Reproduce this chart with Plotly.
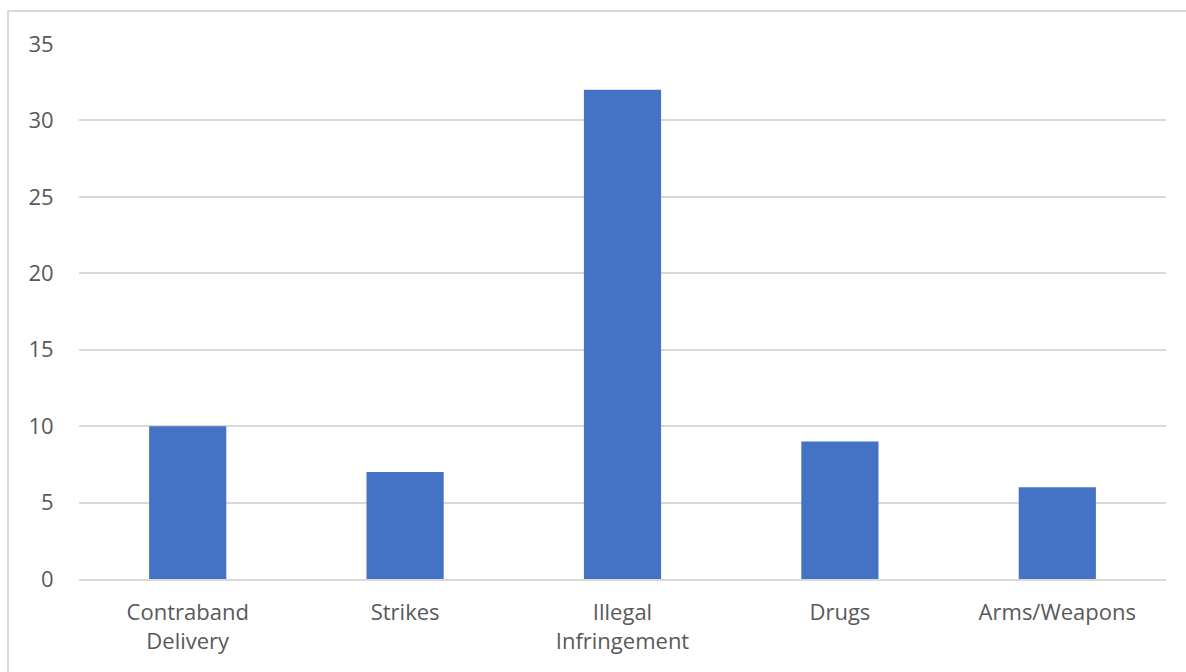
import plotly.graph_objects as go

categories = ["Contraband<br>Delivery", "Strikes", "Illegal<br>Infringement", "Drugs", "Arms/Weapons"]
counts = [10, 7, 32, 9, 6]
y_ticks = [0, 5, 10, 15, 20, 25, 30, 35]

fig = go.Figure(
    go.Bar(x=categories, y=counts, marker=dict(color="#4472C4", line=dict(width=0)))
)

grid = "#D9D9D9"
text_color = "#595959"
font_family = "Open Sans, Liberation Sans, sans-serif"
label_size = 22

fig.update_layout(
    width=1186,
    height=672,
    margin=dict(l=79, r=20, t=44, b=93),
    paper_bgcolor="white",
    plot_bgcolor="white",
    bargap=0.645,
    showlegend=False,
    font=dict(family=font_family, size=label_size, color=text_color),
    xaxis=dict(
        showgrid=False,
        showline=True,
        linecolor=grid,
        linewidth=2,
        ticks="outside",
        ticklen=13,
        tickcolor="rgba(0,0,0,0)",
        tickfont=dict(size=label_size, color=text_color),
    ),
    yaxis=dict(
        range=[0, 35],
        tickvals=y_ticks,
        showgrid=True,
        gridcolor=grid,
        gridwidth=2,
        zeroline=False,
        showline=False,
        ticks="outside",
        ticklen=20,
        tickcolor="rgba(0,0,0,0)",
        tickfont=dict(size=label_size, color=text_color),
    ),
    shapes=[
        dict(
            type="rect",
            xref="paper",
            yref="paper",
            x0=(8 - 79) / 1087,
            x1=(1192 - 79) / 1087,
            y0=(579 - 680) / 535,
            y1=(579 - 11) / 535,
            line=dict(color=grid, width=2),
            fillcolor="rgba(0,0,0,0)",
            layer="below",
        )
    ],
)

fig.write_html("out.html")
